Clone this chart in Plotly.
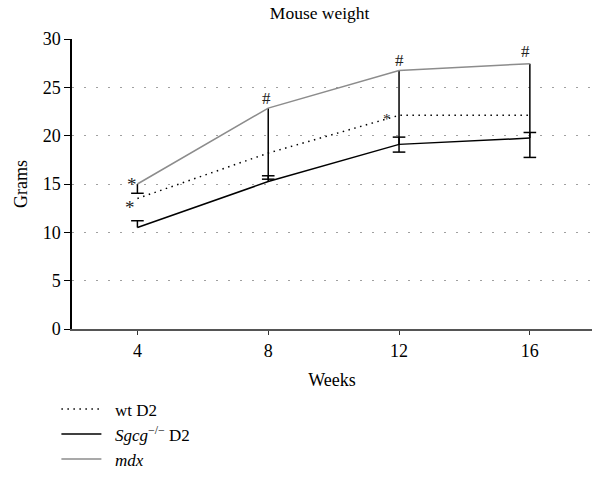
import plotly.graph_objects as go

weeks = [4, 8, 12, 16]
wt_d2 = [13.5, 18.2, 22.1, 22.1]
sgcg_d2 = [10.5, 15.25, 19.1, 19.75]
sgcg_err_up = [0.7, 0.6, 0.75, 0.58]
mdx = [15.0, 22.85, 26.75, 27.45]
mdx_err_down = [0.96, 7.35, 8.45, 9.7]
x_ticks = [4, 8, 12, 16]
y_ticks = [0, 5, 10, 15, 20, 25, 30]

FONT = "Liberation Serif"
zeros = [0] * len(weeks)
GAP = "\u2002"

fig = go.Figure()

fig.add_trace(go.Scatter(
    x=weeks, y=wt_d2, mode="lines", name=GAP + "wt D2",
    line=dict(color="black", width=1.5, dash="1.5px,4.5px"),
))
fig.add_trace(go.Scatter(
    x=weeks, y=sgcg_d2, mode="lines", name=GAP + "<i>Sgcg</i><sup>−/−</sup> D2",
    line=dict(color="black", width=1.5),
    error_y=dict(type="data", symmetric=False, array=sgcg_err_up, arrayminus=zeros,
                 color="black", thickness=1.5, width=0),
))
fig.add_trace(go.Scatter(
    x=weeks, y=mdx, mode="lines", name=GAP + "<i>mdx</i>",
    line=dict(color="#8c8c8c", width=1.5),
    error_y=dict(type="data", symmetric=False, array=zeros, arrayminus=mdx_err_down,
                 color="black", thickness=1.5, width=0),
))
cap_y = [v + e for v, e in zip(sgcg_d2, sgcg_err_up)] + [v - e for v, e in zip(mdx, mdx_err_down)]
fig.add_trace(go.Scatter(
    x=weeks + weeks, y=cap_y, mode="markers", showlegend=False, hoverinfo="skip",
    marker=dict(symbol="line-ew-open", size=9, color="black",
                line=dict(color="black", width=1.5)),
))

ann = []
ann.append(dict(x=weeks[0], y=wt_d2[0], text="*", showarrow=False, xshift=-7, yshift=-9,
                font=dict(family=FONT, size=19, color="#222")))
ann.append(dict(x=weeks[0], y=mdx[0], text="*", showarrow=False, xshift=-5, yshift=0,
                font=dict(family=FONT, size=19, color="#222")))
ann.append(dict(x=weeks[2], y=wt_d2[2], text="*", showarrow=False, xshift=-12, yshift=-4,
                font=dict(family=FONT, size=15, color="#222")))
for i, (xs, ys) in zip([1, 2, 3], [(-2, 10), (0, 10), (-4, 12)]):
    ann.append(dict(x=weeks[i], y=mdx[i], text="#", showarrow=False, xshift=xs, yshift=ys,
                    font=dict(family=FONT, size=17, color="#222")))

fig.update_layout(
    width=592, height=486,
    margin=dict(l=72, r=0, t=39, b=157),
    paper_bgcolor="white", plot_bgcolor="white",
    font=dict(family=FONT, size=17, color="black"),
    title=dict(text="Mouse weight", x=0.54, xanchor="center", y=1 - 13 / 486,
               yanchor="middle", font=dict(family=FONT, size=17.5, color="black")),
    xaxis=dict(range=[2, 17.9], tickvals=x_ticks, ticks="outside", ticklen=4, tickwidth=1.2,
               tickcolor="#333", showline=True, linecolor="#555", linewidth=2,
               showgrid=False, zeroline=False,
               title=dict(text="Weeks", standoff=14, font=dict(family=FONT, size=18)),
               tickfont=dict(family=FONT, size=18)),
    yaxis=dict(range=[0, 30], tickvals=y_ticks, ticks="outside", ticklen=6, tickwidth=1.2,
               tickcolor="black", showline=True, linecolor="black", linewidth=1.5,
               showgrid=True, gridcolor="#a0a0a0", gridwidth=1.3, griddash="2px,10px",
               zeroline=False,
               title=dict(text="Grams", standoff=10, font=dict(family=FONT, size=18)),
               tickfont=dict(family=FONT, size=18)),
    legend=dict(x=-0.03, xanchor="left", y=-0.215, yanchor="top",
                bgcolor="rgba(0,0,0,0)", font=dict(family=FONT, size=17),
                itemwidth=40, tracegroupgap=0),
    annotations=ann,
    showlegend=True,
)

fig.write_html("out.html")
